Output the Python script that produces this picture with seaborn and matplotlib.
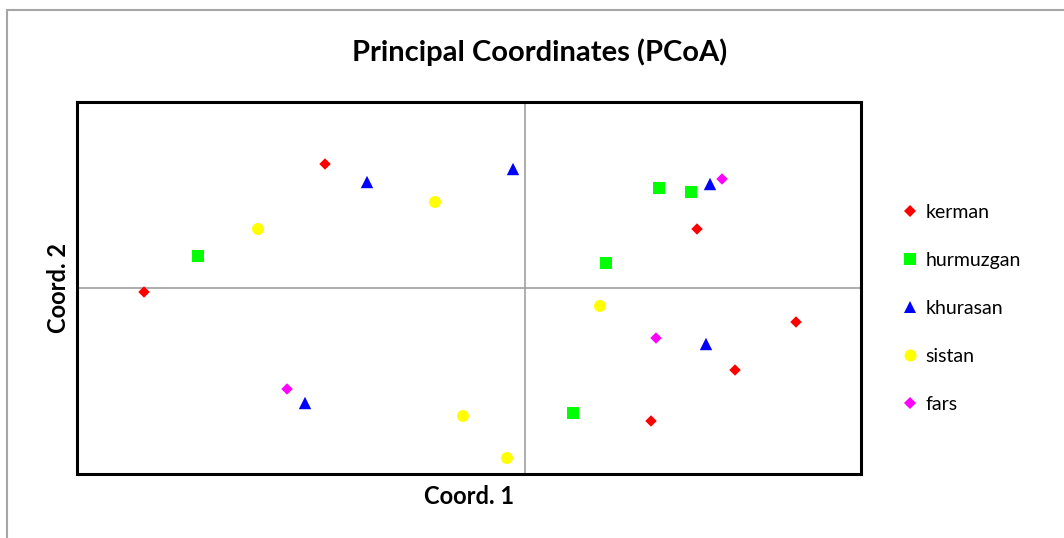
import matplotlib
matplotlib.use("Agg")
import matplotlib.pyplot as plt
import seaborn as sns
import pandas as pd
from matplotlib.patches import Rectangle

# PCoA coordinates
kerman_x = [-0.200, -0.381, 0.172, 0.271, 0.210, 0.126]
kerman_y = [0.124, -0.004, 0.059, -0.034, -0.082, -0.133]
hurmuzgan_x = [-0.327, 0.134, 0.166, 0.081, 0.048]
hurmuzgan_y = [0.032, 0.100, 0.096, 0.025, -0.125]
khurasan_x = [-0.158, -0.012, 0.185, 0.181, -0.220]
khurasan_y = [0.106, 0.119, 0.104, -0.056, -0.115]
sistan_x = [-0.267, -0.090, 0.075, -0.062, -0.018]
sistan_y = [0.059, 0.086, -0.018, -0.128, -0.170]
fars_x = [0.197, 0.131, -0.238]
fars_y = [0.109, -0.050, -0.101]

groups = ["kerman", "hurmuzgan", "khurasan", "sistan", "fars"]
colors = {"kerman": "#FF0000", "hurmuzgan": "#00FF00", "khurasan": "#0000FF",
          "sistan": "#FFFF00", "fars": "#FF00FF"}
markers = {"kerman": "D", "hurmuzgan": "s", "khurasan": "^",
           "sistan": "o", "fars": "D"}
sizes = {"kerman": 34, "hurmuzgan": 75, "khurasan": 80, "sistan": 75, "fars": 34}

xs = [kerman_x, hurmuzgan_x, khurasan_x, sistan_x, fars_x]
ys = [kerman_y, hurmuzgan_y, khurasan_y, sistan_y, fars_y]
rows = []
for g, gx, gy in zip(groups, xs, ys):
    for a, b in zip(gx, gy):
        rows.append((g, a, b))
df = pd.DataFrame(rows, columns=["pop", "coord1", "coord2"])

sns.set_style("white")
plt.rcParams['font.family'] = ['Lato', 'DejaVu Sans']
plt.rcParams['text.color'] = 'black'

fig = plt.figure(figsize=(10.64, 5.38), dpi=100)
ax = fig.add_axes([77 / 1064, 64 / 538, 784 / 1064, 372 / 538])

# outer chart-area border (only left and top visible)
fig.patches.append(Rectangle((7 / 1064, -0.1), 1.2, 1.1 - 10 / 538,
                             transform=fig.transFigure, fill=False,
                             edgecolor="#A6A6A6", linewidth=1.5))

ax.axhline(0, color="#A0A0A0", lw=1.2, zorder=1)
ax.axvline(0, color="#A0A0A0", lw=1.2, zorder=1)

sns.scatterplot(data=df, x="coord1", y="coord2", hue="pop", style="pop", size="pop",
                palette=colors, markers=markers, sizes=sizes,
                hue_order=groups, style_order=groups, size_order=groups,
                linewidth=0, ax=ax, zorder=3)

ax.set_xlim(-0.448, 0.336)
ax.set_ylim(-0.186, 0.186)
ax.set_xticks([])
ax.set_yticks([])
ax.set_xlabel("")
ax.set_ylabel("")
for sp in ax.spines.values():
    sp.set_visible(True)
    sp.set_color("black")
    sp.set_linewidth(2.2)

handles, labels = ax.get_legend_handles_labels()
ax.legend_.remove()
fig.legend(handles, labels, loc="upper left", bbox_to_anchor=(878 / 1064, 1 - 186 / 538),
           frameon=False, fontsize=14, labelspacing=1.6, handletextpad=0.05,
           handlelength=1.5, markerscale=1.0)

fig.text(540 / 1064, 1 - 52 / 538, "Principal Coordinates (PCoA)", ha="center",
         va="center", fontsize=21, fontweight="bold")
fig.text(469 / 1064, 1 - 496 / 538, "Coord. 1", ha="center", va="center",
         fontsize=17, fontweight="bold")
fig.text(58 / 1064, 1 - 288 / 538, "Coord. 2", ha="center", va="center",
         fontsize=17, fontweight="bold", rotation=90)

fig.savefig("out.png", dpi=100)
